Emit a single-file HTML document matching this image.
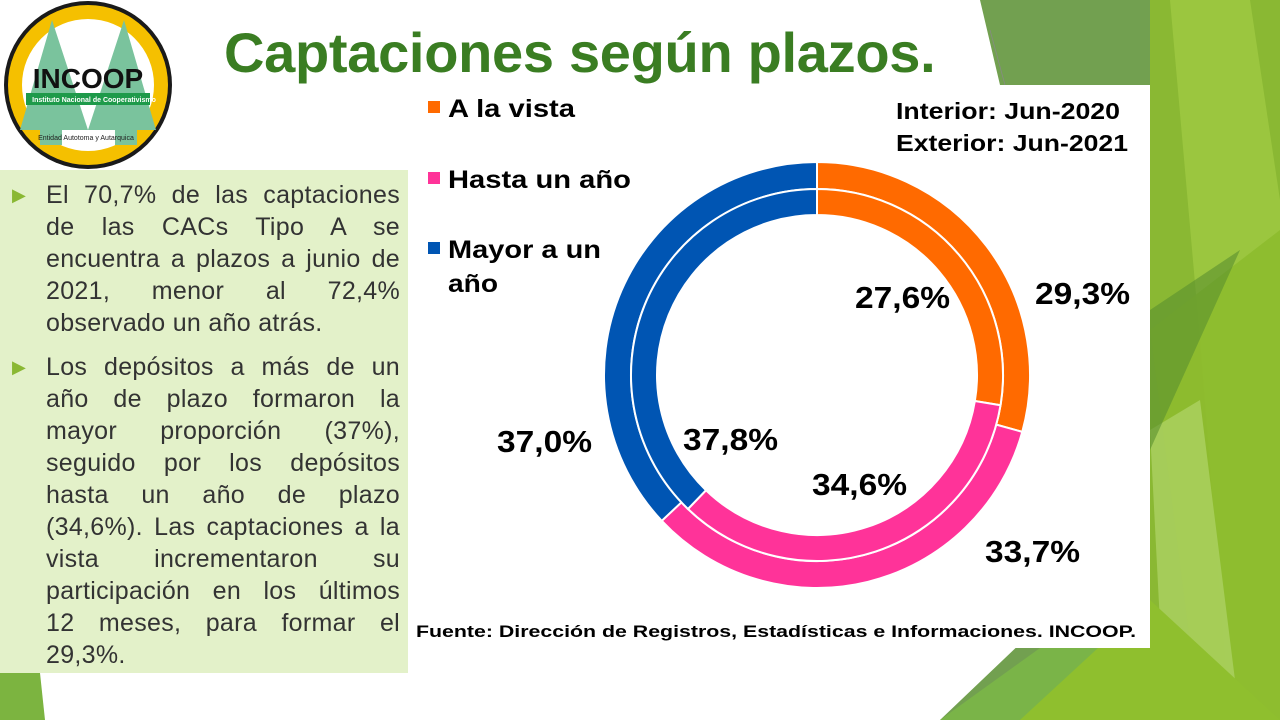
<!DOCTYPE html>
<html><head><meta charset="utf-8"><style>
body{margin:0;width:1280px;height:720px;overflow:hidden;background:#fff;position:relative;font-family:"Liberation Sans",sans-serif}
.abs{position:absolute}
.p{position:relative;padding-left:36px}
.p div{text-align:justify;text-align-last:justify;height:32px;white-space:nowrap}
.p div.l{text-align-last:left}
</style></head><body>
<svg class="abs" style="left:0;top:0" width="1280" height="720">
<polygon points="980,0 1280,0 1280,720 940,720 1150,520 1150,85 1000,85" fill="#72a050"/>
<polygon points="1140,0 1280,0 1280,720 1150,720 1150,0" fill="#8ab833"/>
<polygon points="1170,0 1250,0 1280,200 1280,720 1230,720 1200,340" fill="#9bc63f"/>
<polygon points="1150,330 1280,230 1280,720 1200,720" fill="#8dbb2e" opacity="0.9"/>
<polygon points="1150,430 1200,400 1240,720 1165,720" fill="#b0d46a" opacity="0.7"/>
<polygon points="1150,310 1240,250 1150,450" fill="#5a8f2e" opacity="0.6"/>
<polygon points="1050,648 1150,560 1150,648" fill="#7ab448"/>
<polygon points="940,720 1040,648 1150,648 1150,720" fill="#7ab448"/>
<polygon points="1020,720 1150,600 1280,720" fill="#8fbf2e"/>
<polygon points="0,673 40,673 45,720 0,720" fill="#7cb440"/>
<line x1="990" y1="30" x2="1005" y2="85" stroke="#888" stroke-width="0.7"/>
<rect x="410" y="85" width="740" height="563" fill="#fff"/>
<rect x="0" y="170" width="408" height="503" fill="#e3f1c9"/>
</svg>
<svg class="abs" style="left:0;top:0" width="180" height="175">
<circle cx="88" cy="85" r="84" fill="#1a1a1a"/>
<circle cx="88" cy="85" r="80" fill="#f5c000"/>
<circle cx="88" cy="85" r="66" fill="#fff"/>
<polygon points="52,20 20,130 40,130 40,145 62,145 62,130 88,130" fill="#7ac39d"/>
<polygon points="124,20 88,130 115,130 115,145 137,145 137,130 156,130" fill="#7ac39d"/>
<rect x="26" y="93" width="124" height="12" fill="#1e9a4a"/>
<text x="88" y="88" text-anchor="middle" font-family="Liberation Sans" font-weight="bold" font-size="28" fill="#111">INCOOP</text>
<text x="94" y="102" text-anchor="middle" font-family="Liberation Sans" font-size="7" fill="#fff" font-weight="bold">Instituto Nacional de Cooperativismo</text>
<text x="86" y="140" text-anchor="middle" font-family="Liberation Sans" font-size="7" fill="#222">Entidad Autotoma y Autarquica</text>
</svg>
<div class="abs" style="left:224px;top:20px;font-size:56px;font-weight:bold;color:#3a7d22;letter-spacing:-0.3px">Captaciones según plazos.</div>
<div class="abs" style="left:10px;top:179px;width:390px;font-size:25px;line-height:32px;color:#333;letter-spacing:0.3px">
<div class="p"><span class="abs" style="left:2px;top:0;color:#8ab833;font-size:18px">▶</span>
<div>El 70,7% de las captaciones</div><div>de las CACs Tipo A se</div><div>encuentra a plazos a junio de</div><div>2021, menor al 72,4%</div><div class="l">observado un año atrás.</div></div>
<div class="p" style="margin-top:12px"><span class="abs" style="left:2px;top:0;color:#8ab833;font-size:18px">▶</span>
<div>Los depósitos a más de un</div><div>año de plazo formaron la</div><div>mayor proporción (37%),</div><div>seguido por los depósitos</div><div>hasta un año de plazo</div><div>(34,6%). Las captaciones a la</div><div>vista incrementaron su</div><div>participación en los últimos</div><div>12 meses, para formar el</div><div class="l">29,3%.</div></div>
</div>
<svg class="abs" id="ch" style="left:0;top:0" width="1280" height="720" font-family="Liberation Sans" font-weight="bold"></svg>
<script>
var s=document.getElementById('ch'),cx=817,cy=375,h='';
function ring(r0,r1,vals){var a=0;var cols=['#ff6a00','#ff3399','#0055b3'];vals.forEach(function(v,i){var b=a+v*3.6;function p(r,t){t=(t-90)*Math.PI/180;return (cx+r*Math.cos(t)).toFixed(2)+','+(cy+r*Math.sin(t)).toFixed(2)}var l=(b-a)>180?1:0;h+='<path d="M'+p(r1,a)+' A'+r1+','+r1+' 0 '+l+' 1 '+p(r1,b)+' L'+p(r0,b)+' A'+r0+','+r0+' 0 '+l+' 0 '+p(r0,a)+' Z" fill="'+cols[i]+'" stroke="#fff" stroke-width="2"/>';a=b;});}
ring(186,213,[29.3,33.7,37.0]);ring(160,186,[27.6,34.6,37.8]);
function tx(x,y,str,fs,len){h+='<text x="'+x+'" y="'+y+'" font-size="'+fs+'" textLength="'+len+'" lengthAdjust="spacingAndGlyphs">'+str+'</text>';}
h+='<rect x="428" y="101" width="12" height="12" fill="#ff6a00"/><rect x="428" y="172" width="12" height="12" fill="#ff3399"/><rect x="428" y="242" width="12" height="12" fill="#0055b3"/>';
tx(448,117,'A la vista',25,127);tx(448,188,'Hasta un año',25,183);tx(448,258,'Mayor a un',25,153);tx(448,292,'año',25,50);
tx(896,119,'Interior: Jun-2020',23,224);tx(896,151,'Exterior: Jun-2021',23,232);
[[855,308,'27,6%'],[1035,304,'29,3%'],[683,450,'37,8%'],[497,452,'37,0%'],[812,495,'34,6%'],[985,562,'33,7%']].forEach(function(x){tx(x[0],x[1],x[2],31,95)});
tx(416,637,'Fuente: Dirección de Registros, Estadísticas e Informaciones. INCOOP.',17,720);
s.innerHTML=h;
</script>
</body></html>
